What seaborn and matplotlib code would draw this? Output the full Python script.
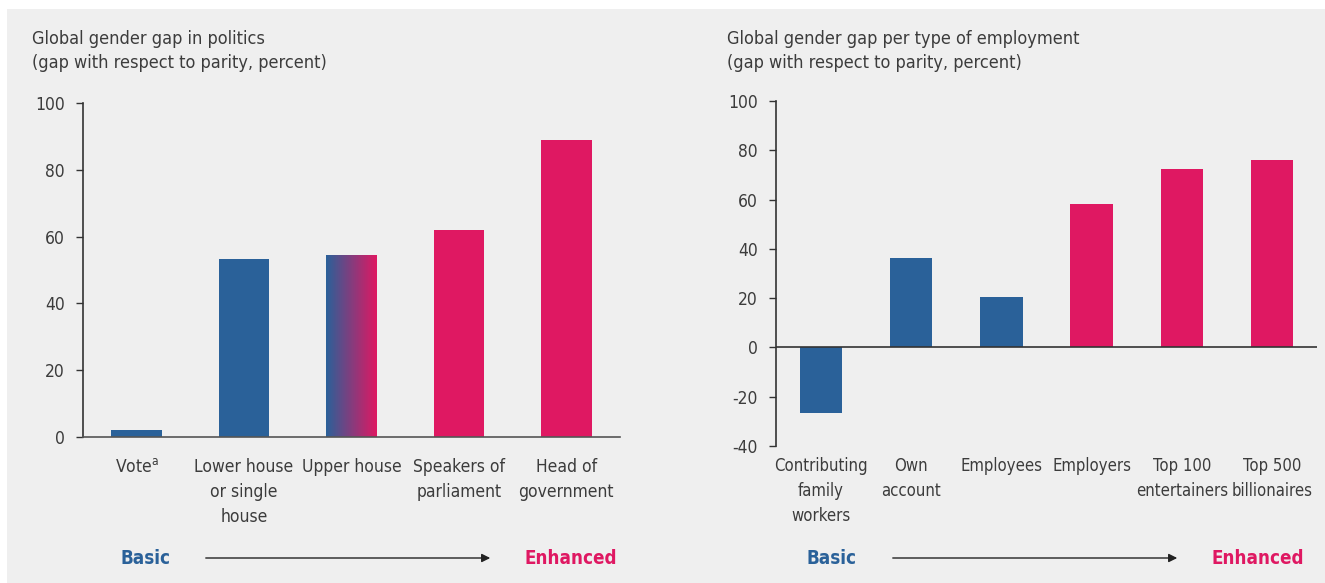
import numpy as np
import pandas as pd
import matplotlib
matplotlib.use("Agg")
import matplotlib.pyplot as plt
import seaborn as sns
from matplotlib.colors import LinearSegmentedColormap

# dati
politics_labels = ["Vote$^{\\rm a}$", "Lower house\nor single\nhouse", "Upper house",
                   "Speakers of\nparliament", "Head of\ngovernment"]
politics_values = [2.0, 53.2, 54.4, 62.0, 88.9]
politics_colors = ["blue", "blue", "mixed", "pink", "pink"]

employment_labels = ["Contributing\nfamily\nworkers", "Own\naccount", "Employees",
                     "Employers", "Top 100\nentertainers", "Top 500\nbillionaires"]
employment_values = [-26.5, 36.2, 20.3, 58.2, 72.4, 75.9]
employment_colors = ["blue", "blue", "blue", "pink", "pink", "pink"]

BLUE = "#2a6199"
PINK = "#df1862"
BG = "#efefef"
TXT = "#3c3c3c"
FONT = "DejaVu Sans"

sns.set_style("ticks")
plt.rcParams["font.family"] = [FONT]
plt.rcParams["font.stretch"] = "condensed"
plt.rcParams["mathtext.fontset"] = "custom"
plt.rcParams["mathtext.rm"] = "DejaVu Sans:stretch=condensed"
plt.rcParams["axes.unicode_minus"] = False
plt.rcParams["text.color"] = TXT
plt.rcParams["xtick.color"] = TXT
plt.rcParams["ytick.color"] = TXT

fig = plt.figure(figsize=(13.25, 5.83), dpi=100, facecolor="white")
fig.patches.append(plt.Rectangle((7 / 1325, 0), 1, (583 - 9) / 583, transform=fig.transFigure,
                                 facecolor=BG, edgecolor="none", zorder=-10))

pal = {"blue": BLUE, "pink": PINK, "mixed": BLUE}
FS = 12.5


def draw(ax, labels, values, colors, ylim, yticks, xfs):
    df = pd.DataFrame({"cat": labels, "val": values, "col": colors})
    sns.barplot(data=df, x="cat", y="val", hue="col", palette=pal, dodge=False,
                width=0.47, legend=False, ax=ax, saturation=1, order=labels, linewidth=0)
    ax.set_facecolor(BG)
    ax.patch.set_alpha(0)
    ax.set_xlim(-0.5, len(labels) - 0.5)
    ax.set_ylim(*ylim)
    ax.set_yticks(yticks)
    ax.set_xlabel("")
    ax.set_ylabel("")
    ax.tick_params(axis="y", labelsize=FS, length=5, width=1, color="#333333", pad=8)
    ax.tick_params(axis="x", labelsize=xfs, length=0, pad=15)
    for s in ["top", "right"]:
        ax.spines[s].set_visible(False)
    ax.spines["left"].set_color("#333333")
    ax.spines["left"].set_linewidth(1.2)
    for t in ax.get_xticklabels():
        t.set_linespacing(1.5)
        t.set_verticalalignment("top")
    return df


ax1 = fig.add_axes([83 / 1325, (583 - 436.7) / 583, 537 / 1325, 333.4 / 583])
draw(ax1, politics_labels, politics_values, politics_colors, (0, 100), range(0, 101, 20), FS)
ax1.spines["bottom"].set_color("#555555")
ax1.spines["bottom"].set_linewidth(1.2)

# barra con sfumatura (Upper house)
cmap = LinearSegmentedColormap.from_list("bp", [BLUE, PINK])
idx = politics_colors.index("mixed")
bars = [p for p in ax1.patches if p.get_height() > 0]
bars = sorted(bars, key=lambda p: p.get_x())
bar = bars[idx]
x0, w, h = bar.get_x(), bar.get_width(), bar.get_height()
grad = np.linspace(0, 1, 256).reshape(1, -1)
im = ax1.imshow(grad, extent=[x0, x0 + w, 0, h], aspect="auto", cmap=cmap, zorder=bar.get_zorder())
im.set_clip_path(bar)
bar.set_facecolor("none")
ax1.set_xlim(-0.5, len(politics_labels) - 0.5)
ax1.set_ylim(0, 100)

ax2 = fig.add_axes([776 / 1325, (583 - 446) / 583, 541 / 1325, 345 / 583])
draw(ax2, employment_labels, employment_values, employment_colors, (-40, 100), range(-40, 101, 20), 12)
ax2.spines["bottom"].set_visible(False)
ax2.axhline(0, color="#333333", lw=1.2, zorder=5)
ax2.set_xlim(-0.5, len(employment_labels) - 0.5)
ax2.tick_params(axis="x", pad=8)

# titoli
fig.text(32 / 1325, 1 - 51 / 583, "Global gender gap in politics\n(gap with respect to parity, percent)",
         fontsize=13, va="center", ha="left", linespacing=1.5)
fig.text(727 / 1325, 1 - 51 / 583, "Global gender gap per type of employment\n(gap with respect to parity, percent)",
         fontsize=13, va="center", ha="left", linespacing=1.5)

# Basic -> Enhanced
for xb, xa0, xa1, xe in [(145, 203, 493, 571), (832, 890, 1180, 1258)]:
    yy = 1 - 558 / 583
    fig.text(xb / 1325, yy, "Basic", color=BLUE, fontsize=13.5, fontweight="bold", ha="center", va="center")
    fig.text(xe / 1325, yy, "Enhanced", color=PINK, fontsize=13.5, fontweight="bold", ha="center", va="center")
    fig.patches.append(matplotlib.patches.FancyArrowPatch(
        (xa0 / 1325, yy), (xa1 / 1325, yy), transform=fig.transFigure,
        arrowstyle="-|>,head_length=5,head_width=2.5", color="#222222", lw=1, mutation_scale=1))

fig.savefig("out.png", dpi=100, facecolor=fig.get_facecolor())
